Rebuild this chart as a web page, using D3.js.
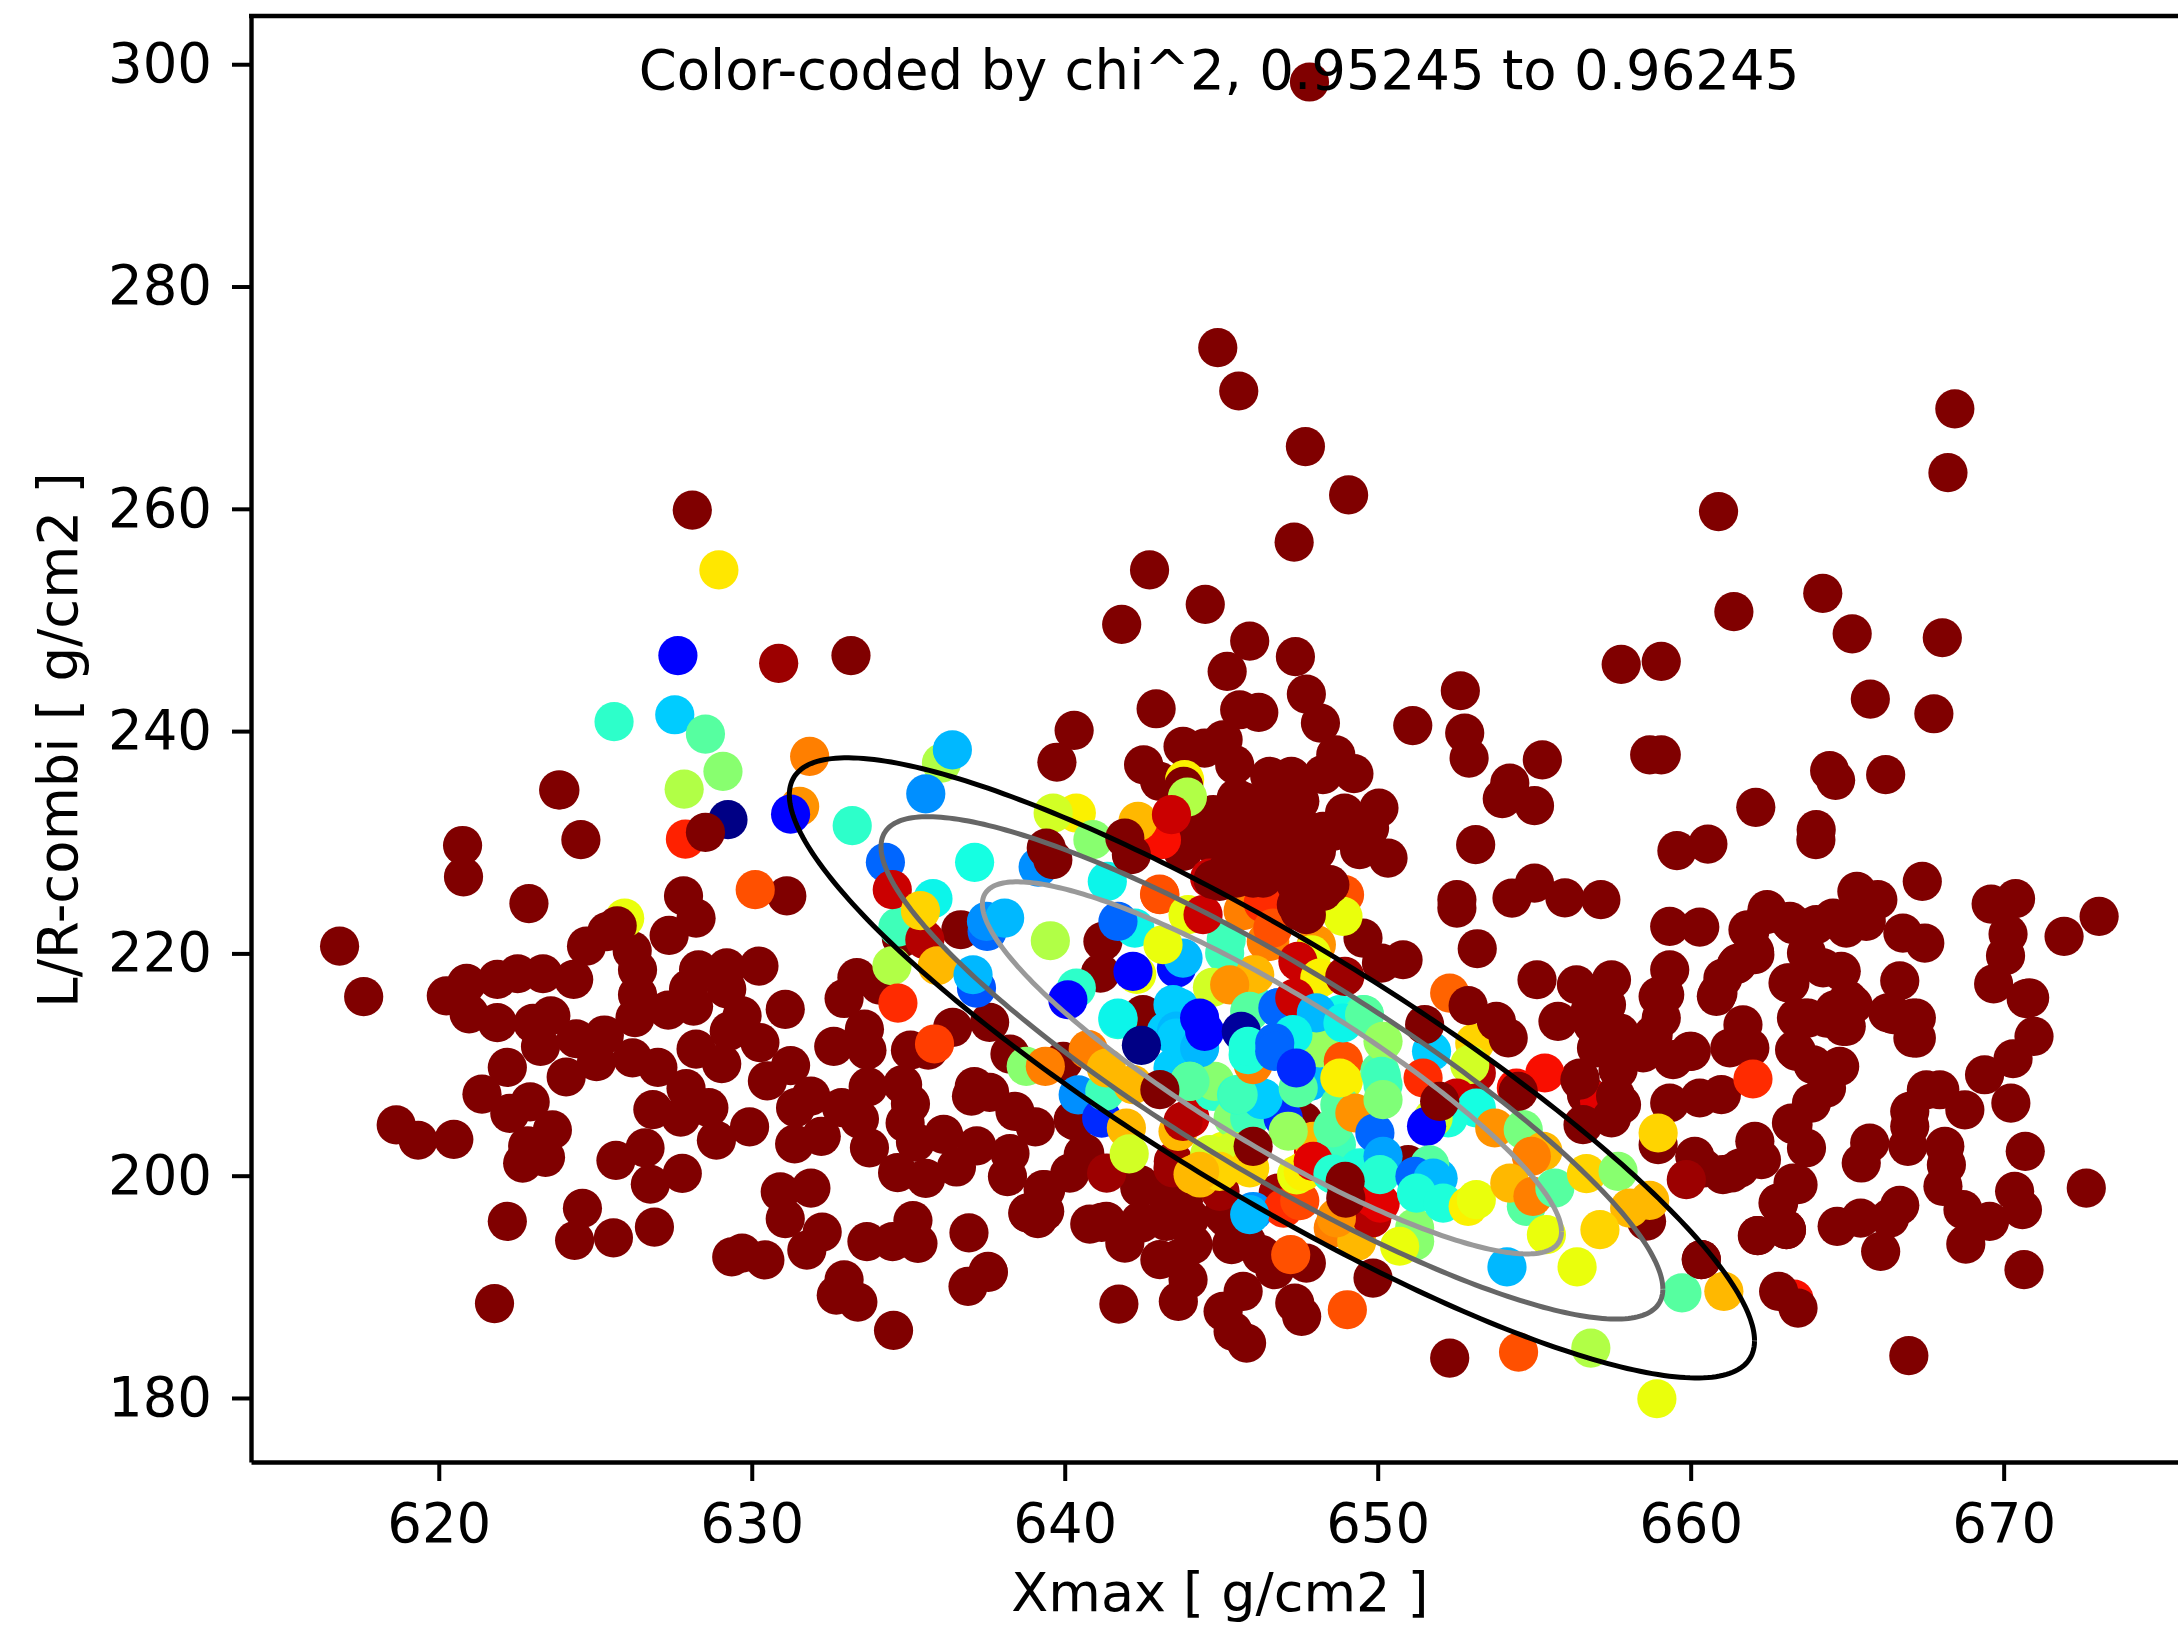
<!DOCTYPE html>
<html>
<head>
<meta charset="utf-8">
<script src="https://cdn.jsdelivr.net/npm/d3@7"></script>
<style>
body { margin: 0; background: #fff; overflow: hidden; }
text { font-family: "DejaVu Sans"; fill: #000; }
</style>
</head>
<body>
<svg id="chart" width="2178" height="1625"></svg>
<script>
const chiMin = 0.95245, chiMax = 0.96245;
const xTicks = [620, 630, 640, 650, 660, 670];
const yTicks = [180, 200, 220, 240, 260, 280, 300];
const titleText = 'Color-coded by chi^2, 0.95245 to 0.96245';
const xLabel = 'Xmax [ g/cm2 ]';
const yLabel = 'L/R-combi [ g/cm2 ]';

// events above the colour range, they sit behind everything else [xmax, l/r]
const backPoints = [
[616.83,220.65],[617.6,216.11],[620.76,229.71],[620.79,226.89],[624.54,230.23],[622.88,224.48],[627.82,225.17],[628.22,223.17],
[627.36,221.62],[631.12,225.17],[623.87,234.7],[620.24,216.18],[620.89,217.31],[621.87,217.66],[622.52,218.17],[623.33,218.17],
[624.31,217.66],[620.97,214.56],[621.87,213.77],[624.72,220.65],[626.18,220.24],[626.35,218.52],
[626.35,216.28],[626.27,214.21],[623.01,213.7],[623.58,214.39],[623.25,211.63],[624.39,212.32],[625.29,212.66],[625.04,210.25],
[624.07,208.88],[626.19,210.6],[627,209.74],[622.19,209.74],[621.38,207.33],[622.92,206.64],[622.27,205.6],[623.63,204.12],
[622.84,202.68],[623.41,201.65],[622.68,201.13],[618.64,204.57],[619.34,203.19],[620.48,203.26],[625.66,201.37],[626.59,202.5],
[626.76,199.23],[627.78,200.2],[622.19,195.89],[624.59,197.06],[624.34,194.17],[625.58,194.41],[626.89,195.38],[621.78,188.49],
[627.33,214.9],[628.14,215.25],[628.3,218.52],[629.2,218.69],[630.23,218.86],[627.98,216.8],[629.2,216.8],[629.69,214.39],
[631.07,214.97],[629.28,213],[630.26,211.98],[628.22,211.39],[629.04,210.08],[631.24,209.91],[630.5,208.53],[626.84,205.95],
[627.9,207.84],[628.63,206.12],[627.73,205.26],[628.87,203.19],[629.93,204.4],[631.89,207.15],[631.4,206.12],[631.37,202.85],
[632.22,203.54],[632.87,206.12],[633.44,205.09],[633.76,202.51],[633.72,208],[634.82,208.19],[635.07,206.47],[634.9,204.75],
[635.23,203.02],[632.62,211.63],[633.68,211.29],[633.6,213.18],[632.95,215.94],[633.36,217.83],[634.09,217.14],[635.07,211.29],
[635.64,211.29],[636.42,213.35],[637.6,213.8],[638.25,210.94],[637.11,208.02],[637.02,207.15],[637.6,207.5],[638.41,205.78],
[639.06,204.4],[636.13,203.71],[637.19,202.68],[638.25,201.99],[638.17,199.92],[634.66,200.27],[635.56,199.75],[636.54,200.78],
[630.91,198.55],[631.89,198.89],[631.07,196.13],[632.25,194.93],[631.76,193.31],[629.36,192.69],[629.69,193.04],[630.42,192.42],
[633.68,194.07],[634.5,194.07],[635.15,195.96],[635.31,193.9],[636.94,194.86],[637.56,191.31],[636.91,190.04],[632.95,190.63],
[632.7,189.25],[633.39,188.63],[634.53,186.08],[638.82,196.65],[639.39,198.72],[639.14,196.13],[628.1,259.88],[633.17,246.8],
[623.83,234.7],[634.78,221.38],[636.68,222.13],[639.95,210.28],[640.27,205.03],[640.64,202.03],[640.16,200.23],[639.31,198.74],
[638.83,196.64],[639.36,196.79],[637.55,191.39],[640.8,195.65],[641.18,195.8],[641.92,193.94],[642.45,195.74],[643.04,192.44],
[643.68,192.59],[643.94,190.64],[643.63,188.69],[641.73,188.45],[643.25,195.89],[644,196.19],[642.4,199.19],[643.36,198.29],
[643.79,197.69],[645.17,196.19],[645.33,193.79],[646.29,192.89],[646.71,191.54],[645.7,189.59],[645.06,187.79],[645.38,185.99],
[645.81,184.94],[647.35,188.54],[647.57,187.34],[647.72,192.14],[649.85,190.79],[652.3,183.59],[640.37,204.89],[640.59,201.89],
[642.4,198.9],[643.25,198.3],[644.1,193.8],[645.8,194.1],[645.06,196.5],[642.4,195.9],[641.33,195.9],[647.62,204.89],
[647.82,298.4],[644.89,274.5],[645.56,270.6],[647.69,265.6],[649.07,261.25],[647.33,257],[642.71,254.5],[644.49,251.4],
[641.82,249.6],[645.91,248.1],[645.19,245.37],[647.37,246.7],[647.72,243.33],[642.92,242.01],[640.3,240.06],[639.75,237.2],
[648.17,240.72],[645.59,241.92],[646.2,241.68],[652.64,243.63],[651.12,240.5],[652.78,239.82],[652.92,237.57],[655.26,237.42],
[654.22,235.33],[653.98,233.92],[655.01,233.29],[653.13,229.78],[652.53,224.83],[652.53,224.08],[655.01,226.33],[654.29,224.98],
[653.18,220.42],[655.09,217.63],[648.66,237.87],[649.24,236.17],[643.78,238.62],[642.52,236.97],[643.03,235.48],[645.06,239.22],
[644.47,238.47],[645.43,236.98],[646.55,235.93],[647.24,235.93],[648.25,236.08],[648.94,232.63],[650.04,233.08],[649.74,231.28],
[649.42,229.33],[650.33,228.58],[644.74,232.48],[645.7,233.68],[646.34,233.08],[647.51,233.68],[645.16,230.98],[645.91,231.28],
[646.98,231.28],[647.72,230.08],[644.85,229.48],[645.8,229.48],[647.19,229.18],[644.21,230.38],[643.73,229.48],
[645.48,233.98],[646.12,231.58],[646.76,230.38],[647.51,231.58],[646.34,229.48],[645.48,229.18],[644.63,230.38],[645.06,232.18],
[646.87,232.78],[648.25,230.98],[647.83,228.58],[648.04,229.18],[648.57,230.98],[644.31,232.18],[643.78,229.18],
[649.53,221.38],[650.12,219.13],[650.81,219.43],[641.22,221.08],[641.14,218.23],[642.5,214.5],
[655.98,225],[657.13,224.83],[659.33,222.43],[660.29,222.37],[661.89,221.98],[662.05,219.88],[661.46,218.98],[660.87,216.43],
[661.03,217.78],[663.17,217.33],[656.35,217.18],[657.47,217.63],[655.76,213.88],[656.78,214.78],[657.31,215.38],[656.88,213.58],
[659.33,218.53],[658.96,216.13],[659.06,214.18],[657.73,212.84],[658.8,212.69],[658.48,211.04],[656.99,211.49],[657.68,209.54],
[656.46,208.79],[656.67,207.29],[657.79,206.39],[659.44,210.44],[659.97,211.19],[661.25,211.49],
[661.67,213.58],[661.89,211.49],[659.33,206.54],[660.29,206.99],[660.98,207.29],[663.38,211.19],[660.13,201.74],[662.05,203.09],
[662.26,201.44],[661.57,200.69],[661.03,200.09],[660.4,200.69],[663.43,199.19],[662.79,197.54],[662.15,194.61],[663.06,195.14],
[660.34,192.45],[658.96,202.79],[663.27,204.59],[663.38,214.18],[662.42,223.48],[663.17,222.88],[660.02,211.18],
[663.75,214.18],[664.34,214.18],[664.97,213.43],[665.19,215.38],[663.32,211.33],[663.91,209.98],[664.76,209.83],[664.34,207.88],
[663.86,206.53],[663.22,204.73],[663.7,202.49],[666.47,214.48],[667.21,214.18],[667.21,212.38],[667.53,207.73],[667.96,207.73],
[667,205.78],[667,204.44],[666.94,202.64],[668.76,205.93],[669.39,209.08],[670.3,210.52],[670.97,212.53],[670.83,216],
[670.23,206.53],[670.69,202.19],[665.72,202.94],[665.45,201.14],[668.12,202.64],[668.17,200.99],[668.06,199.04],[668.7,196.94],
[669.55,195.89],[670.35,198.59],[670.6,196.94],[672.64,198.89],[668.79,193.85],[670.65,191.54],[666.68,197.33],[666.36,196.19],
[665.43,196.19],[664.68,195.44],[666.07,193.19],[663.27,199.34],[662.81,197.54],[663.06,195.14],[662.13,194.6],[661.3,200.24],
[666.97,183.81],[659.06,246.27],[665.74,242.88],[667.77,241.56],[659.06,237.87],[658.69,237.87],[664.44,236.44],
[664.63,235.57],[666.23,236.08],[662.08,233.14],[664.01,231.13],[664,230.23],[659.56,229.24],[660.55,229.84],[667.4,226.48],
[665.31,225.58],[665.98,224.83],[665.61,222.88],[669.6,224.44],[670.38,224.92],[673.05,223.33],[671.93,221.53],[666.78,221.83],
[667.48,220.93],[670.14,221.74],[670.06,219.79],[669.68,217.25],[670.72,215.93],[666.68,217.54],[662.44,223.93],[661.83,222.13],
[663.27,222.58],[664.55,223.18],[664.01,222.58],[664.97,222.28],[662.04,220.18],[661.51,219.13],[660.82,216.14],[659.17,216.29],
[663.7,220.04],[664.23,218.69],[664.81,218.39],[663.11,217.34],[665.03,215.83],[663.64,214.18],[664.6,214.93],[664.87,213.43],
[666.3,214.64],[667.1,214.18],[667.1,212.39],[660.89,259.75],[661.38,250.75],[664.22,252.4],[665.16,248.75],[668.04,248.4],
[657.78,246],[668.44,269],[668.22,263.25],[650.97,201],[658.59,195.9]
];

// events inside the colour range, back to front [xmax, l/r, chi2]
const rangePoints = [
[625.94,223.17,.9588],[628.95,254.5,.9591],[627.64,246.8,.9537],[630.86,246.1,.9622],[625.6,240.85,.9565],[627.54,241.47,.9557],[628.52,239.73,.957],
[629.08,236.37,.9576],[627.84,234.78,.9581],[627.88,230.29,.9612],[629.24,232.03,.9525],[631.85,237.72,.9602],[631.53,233.22,.96],
[631.24,232.53,.9537],[633.21,231.49,.9565],[636.06,237.12,.9581],[636.41,238.32,.9555],[635.56,234.36,.9551],[634.27,228.19,.9547],
[635.79,224.92,.9561],[634.67,222.37,.9567],[634.49,225.73,.9618],[635.53,221.23,.962],[635.39,223.84,.9593],[634.48,218.89,.9581],
[635.93,218.89,.9596],[637.18,216.88,.9545],[637.07,218.08,.9555],[634.67,215.53,.9611],[630.11,225.73,.9607],[635.84,211.85,.9609],
[637.12,228.19,.9562],[640.37,232.63,.959],[639.63,232.63,.9585],[640.9,230.23,.9576],[639.15,227.77,.9551],[641.36,226.48,.9561],
[637.52,221.98,.9547],[637.5,222.88,.9551],[638.08,223.18,.9555],[639.54,221.14,.9581],[640.37,216.88,.9565],[640.1,215.83,.9537],
[641.7,214.03,.9563],[638.77,209.84,.9576],[639.38,209.84,.9602],
// bottom centre
[641.34,200.23,.9622],[643.47,201.29,.9622],[644.96,198.59,.9622],[646.82,198.44,.9622],[644.63,226.78,.9618],[643.46,200.7,.9622],
[640.43,207.28,.9551],[641.18,205.18,.9541],[641.28,207.58,.9567],[640.75,211.34,.9602],[641.33,209.69,.9596],[642.18,208.19,.9596],
[641.97,204.28,.9596],[642.06,201.97,.9585],[644.1,200.1,.9596],[644.85,201.58,.9585],[645.06,202.19,.9588],[644.32,199.79,.9596],
[643.62,203.98,.9596],[644,205.18,.9618],[643.78,204.89,.962],[646.02,196.78,.9551],[646.99,197.09,.9611],[647.51,197.75,.9608],
[647.95,202.18,.9616],[647.41,200.08,.9588],[647.62,200.38,.959],[648.58,195.3,.9602],[649.33,194.09,.9596],[649.81,196.19,.962],
[650.08,197.54,.9616],[648.53,200.23,.9563],[651.18,195.3,.9576],[651.18,194.1,.9576],[650.7,193.65,.9588],
[647.22,192.89,.9607],[649.03,187.94,.9607],
// middle, filler first
[643.68,215.09,.9557],[643.25,212.99,.9557],[645.49,206.69,.9565],[644.74,207.59,.9565],[647.3,212.39,.9561],[647.93,214.49,.9555],
[646.82,215.09,.9547],[645.91,215.99,.9567],[648.79,214.49,.9562],[649.53,214.49,.9567],[645.49,217.49,.96],[646.02,218.08,.9596],
[645.11,220.03,.9567],[643.04,225.28,.9607],[646.55,221.08,.9602],[643.46,209.69,.9557],[644.79,208.49,.9576],[645.38,205.19,.9576],
[645.91,205.19,.9567],[646.98,205.19,.9541],[647.94,203.09,.9596],[648.68,202.79,.9567],[650.17,208.19,.9567],[649.43,200.7,.9563],
[647.94,201.29,.9616],[645.38,202.19,.9585],[645.91,200.7,.9593],[644.63,201.89,.9585],[644.95,200.39,.9593],[644.31,200.4,.9596],
[649.85,198,.9616],[648.68,196.2,.96],[645.91,196.5,.9555],
[643.57,218.68,.9538],[643.78,219.58,.9555],[642.24,222.28,.9561],[641.7,222.88,.9547],[642.3,218.1,.9588],[642.18,218.38,.9537],
[641.7,214.18,.9561],[643.14,220.78,.9588],[643.46,215.39,.9557],[643.57,213,.9555],[643.57,212.39,.9557],[644.31,211.49,.9555],
[643.99,208.49,.9576],[645.49,207.28,.9565],[644,208.48,.957],[646.29,206.84,.9557],[646.34,206.98,.9557],[645.54,207.29,.9567],[646.02,210,.9602],
[645.86,210.89,.9563],[647.83,208.49,.9555],[647.46,207.89,.957],[648.15,211.49,.9578],[648.9,210.3,.9607],[648.9,208.49,.959],
[650.07,209.39,.957],[648.79,206.39,.957],[648.57,204.29,.957],[649.27,205.64,.96],[647.14,204,.9578],[649.91,203.84,.9547],
[650.17,201.74,.9553],[648.57,200.15,.9564],
[645.16,221.23,.9567],[643.83,235.63,.959],[643.8,235.03,.9625],[643.92,234.07,.9581],[643.09,230.23,.9614],[642.34,231.88,.9596],[643.41,232.48,.9618],
[643.03,225.34,.9607],[643.94,223.48,.9588],[644.42,223.48,.9618],[646.97,226.48,.9576],[645.7,223.84,.9602],[646.34,224.53,.9611],
[648.94,225.28,.9607],[648.89,223.33,.9588],[648.04,220.78,.96],[647.88,219.88,.9588],[646.44,221.08,.9602],[646.65,222.28,.9607],
[646.07,218.08,.9596],[647.45,219.28,.9618],[648.15,217.78,.959],[648.95,217.93,.9622],[644.72,216.95,.9585],[645.27,217.17,.96],
[645.91,214.78,.957],[646.81,215.09,.9547],[647.35,215.98,.9618],[648.04,214.64,.9555],[648.89,213.74,.9561],[649.58,214.48,.957],
[650.17,212.09,.9578],[647.29,212.69,.9561],[644.31,214.18,.9537],[644.47,212.99,.9537],[645.64,212.99,.9527],[645.86,211.64,.9563],
[646.71,211.94,.9547],[646.71,211.19,.9547],[647.4,209.69,.9541],[642.45,211.73,.9525],
// lower right tail
[652.3,216.43,.9605],[653.1,211.94,.9593],[651.72,211.19,.9557],[650.12,208.94,.9567],[648.79,208.79,.959],[650.17,206.84,.9575],
[651.45,208.79,.9611],[653.15,209.24,.962],[652.94,209.99,.9585],[655.34,209.24,.9614],[654.43,207.89,.9614],[652.52,206.99,.9618],
[653.15,206.09,.9562],[652.25,205.19,.9563],[651.77,205.19,.9585],[651.56,204.44,.9537],[653.74,204.29,.96],[654.65,204.14,.9574],
[655.28,202.19,.9596],[654.91,201.74,.9602],[650.07,200.09,.9564],[651.93,199.78,.9555],[651.66,200.98,.957],[651.19,199.94,.9547],
[651.77,199.79,.9555],[651.24,198.44,.9563],[652.09,197.54,.9563],[652.89,197.24,.959],[653.15,197.84,.9588],[654.75,197.24,.957],
[654.22,199.34,.9596],[654.96,198.14,.9602],[655.66,198.89,.957],[656.67,200.18,.9593],[657.68,200.39,.9576],[658.05,197.09,.9596],
[658.69,197.78,.9596],[655.39,194.69,.9588],[657.1,195.14,.9593],[654.13,191.79,.9555],[656.37,191.79,.9588],[659.72,189.45,.957],
[661.06,189.6,.9596],[659.86,199.64,.9622],[658.96,203.84,.9593],[661.99,208.7,.9611],[657.09,206.69,.9616],[663.3,188.9,.9614],
[656.81,184.49,.9581],[658.92,179.93,.9588],[654.5,184.13,.9607]
];

// saturated events that were plotted over the coloured ones
const frontPoints = [
[625.7,222.48],[625.37,221.96],
[628.52,230.89],[639.41,229.48],[639.62,228.43],[641.92,230.38],[642.13,228.88],[643.04,207.74],[646.02,202.64],
[648.98,197.99],[648.96,199.49],[651.5,213.59],[652.89,215.3],[653.79,213.89],[654.17,212.39],[654.49,207.59],[651.98,206.69],
[663.43,188.09],[662.81,189.59],[644.74,226.63],[645.16,227.38],[646.02,227.68],[647.4,224.38],[647.72,223.48],[648.04,226.48],[648.47,226.18],
[646.02,226.78],[645.48,226.78],[646.34,226.78],[644.95,226.48],[647.83,226.18],[648.25,225.58],[647.51,223.78],[647.83,225.28],[647.4,226.18],[647.3,228],
[656.46,208.6],[657.6,207.2],[657.47,205.19],[656.56,204.59],[660.34,192.45]
];

// sigma contours around the best fit point
const ellipseCenter = [646.62, 209.7];
const ellipseSpread = [15.42, 27.9];
const ellipseRho = -0.88;
const ellipseLevels = [1, 0.81, 0.6];
const ellipseColors = ['#000000', '#666666', '#999999'];

// matplotlib jet as three ramps
let jetR = d3.scaleLinear().domain([0, 0.35, 0.66, 0.89, 1]).range([0, 0, 1, 1, 0.5]).clamp(true);
let jetG = d3.scaleLinear().domain([0, 0.125, 0.375, 0.64, 0.91, 1]).range([0, 0, 1, 1, 0, 0]).clamp(true);
let jetB = d3.scaleLinear().domain([0, 0.11, 0.34, 0.65, 1]).range([0.5, 1, 1, 0, 0]).clamp(true);
let chiScale = d3.scaleLinear().domain([chiMin, chiMax]).range([0, 1]).clamp(true);
function jet(chi) {
    let f = chiScale(chi);
    return d3.rgb(jetR(f) * 255, jetG(f) * 255, jetB(f) * 255).formatHex();
}

let svg = d3.select('#chart');
let plot = {left: 251, right: 2229, top: 16, bottom: 1462};

let xScale = d3.scaleLinear().domain([614, 677.2]).range([plot.left, plot.right]);
let yScale = d3.scaleLinear().domain([174.24, 304.34]).range([plot.bottom, plot.top]);

function drawPoints(points, cls) {
    svg.append('g').attr('class', cls).selectAll('circle')
        .data(points)
        .enter().append('circle')
        .attr('cx', d => xScale(d[0]))
        .attr('cy', d => yScale(d[1]))
        .attr('r', 19.6)
        .attr('fill', d => jet(d.length > 2 ? d[2] : chiMax));
}
drawPoints(backPoints, 'back');
drawPoints(rangePoints, 'range');
drawPoints(frontPoints, 'front');

// contours
let angles = d3.range(0, 2 * Math.PI + 0.01, 0.02);
let ellipseLine = d3.line().x(d => xScale(d[0])).y(d => yScale(d[1]));
ellipseLevels.forEach((level, i) => {
    let outline = angles.map(t => [
        ellipseCenter[0] + level * ellipseSpread[0] * Math.cos(t),
        ellipseCenter[1] + level * ellipseSpread[1] * (ellipseRho * Math.cos(t) + Math.sqrt(1 - ellipseRho * ellipseRho) * Math.sin(t))
    ]);
    svg.append('path')
        .attr('d', ellipseLine(outline))
        .attr('fill', 'none')
        .attr('stroke', ellipseColors[i])
        .attr('stroke-width', 5);
});

// axes
function styleAxis(g) {
    g.selectAll('path.domain').attr('stroke', '#000').attr('stroke-width', 4.4);
    g.selectAll('.tick line').attr('stroke', '#000').attr('stroke-width', 4);
    g.selectAll('.tick text').attr('font-family', '"DejaVu Sans"').attr('font-size', 54.5).attr('fill', '#000');
}
svg.append('g')
    .attr('transform', `translate(0,${plot.bottom})`)
    .call(d3.axisBottom(xScale).tickValues(xTicks).tickFormat(d3.format('d')).tickSizeInner(19).tickSizeOuter(0).tickPadding(22))
    .call(styleAxis);
svg.append('g')
    .attr('transform', `translate(${plot.left},0)`)
    .call(d3.axisLeft(yScale).tickValues(yTicks).tickFormat(d3.format('d')).tickSizeInner(19).tickSizeOuter(0).tickPadding(20))
    .call(styleAxis);
svg.append('line')
    .attr('x1', plot.left - 2).attr('x2', plot.right)
    .attr('y1', plot.top).attr('y2', plot.top)
    .attr('stroke', '#000').attr('stroke-width', 4.4);

// labels
svg.append('text').attr('x', 1219).attr('y', 89)
    .attr('text-anchor', 'middle').attr('font-size', 54.5).text(titleText);
svg.append('text').attr('x', 1220).attr('y', 1611)
    .attr('text-anchor', 'middle').attr('font-size', 54).text(xLabel);
svg.append('text').attr('transform', 'translate(77,740) rotate(-90)')
    .attr('text-anchor', 'middle').attr('font-size', 54.5).text(yLabel);
</script>
</body>
</html>
